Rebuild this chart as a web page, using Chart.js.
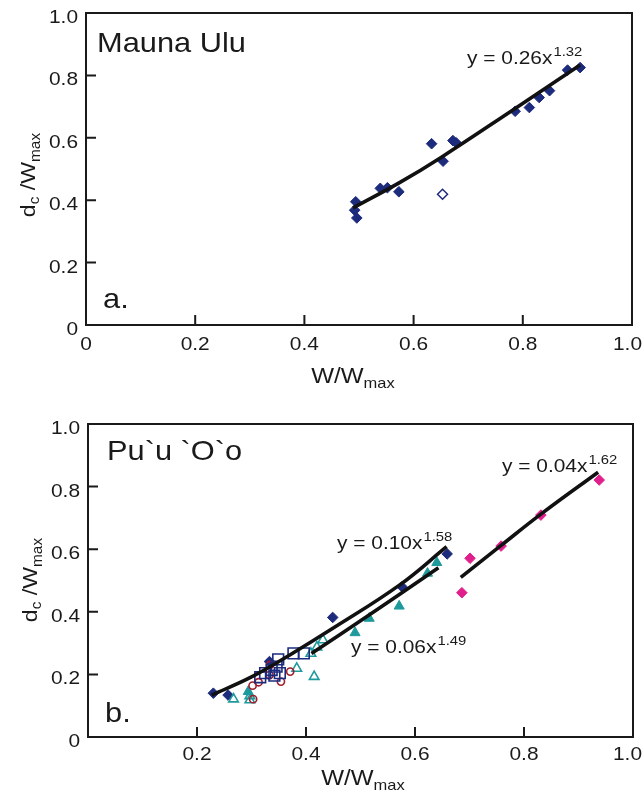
<!DOCTYPE html>
<html lang="en">
<head>
<meta charset="UTF-8" />
<title>Channel depth vs width</title>
<script src="https://cdn.jsdelivr.net/npm/chart.js"></script>
<style>
  body { margin: 0; background: #fff; }
  canvas { position: absolute; left: 0; }
  #chartA { top: 0; }
  #chartB { top: 395px; }
</style>
</head>
<body>
<canvas id="chartA" width="644" height="395"></canvas>
<canvas id="chartB" width="644" height="396"></canvas>
<script>
// panel a: Mauna Ulu
const muX = [0.492, 0.494, 0.496, 0.539, 0.552, 0.573, 0.633, 0.654, 0.672, 0.678, 0.786, 0.812, 0.830, 0.849, 0.882, 0.905];
const muY = [0.368, 0.395, 0.343, 0.438, 0.440, 0.427, 0.581, 0.525, 0.591, 0.584, 0.685, 0.697, 0.729, 0.751, 0.817, 0.825];
const muOpenX = [0.653];
const muOpenY = [0.419];
const muFitX = [0.489, 0.575, 0.651, 0.786, 0.905];
const muFitY = [0.375, 0.457, 0.538, 0.694, 0.833];

// panel b: Pu`u `O`o
const diaX = [0.230, 0.257, 0.333, 0.449, 0.576, 0.659];
const diaY = [0.140, 0.134, 0.241, 0.382, 0.480, 0.585];
const sqX = [0.316, 0.325, 0.337, 0.346, 0.349, 0.352, 0.377, 0.396, 0.342];
const sqY = [0.191, 0.204, 0.214, 0.225, 0.248, 0.204, 0.267, 0.267, 0.196];
const circX = [0.302, 0.303, 0.313, 0.333, 0.334, 0.354, 0.371];
const circY = [0.164, 0.121, 0.175, 0.198, 0.230, 0.177, 0.209];
const triOpenX = [0.267, 0.297, 0.297, 0.383, 0.415, 0.409, 0.420, 0.431];
const triOpenY = [0.121, 0.131, 0.118, 0.219, 0.193, 0.267, 0.287, 0.310];
const triX = [0.294, 0.490, 0.516, 0.571, 0.623, 0.640];
const triY = [0.145, 0.333, 0.379, 0.418, 0.523, 0.557];
const pinkX = [0.686, 0.701, 0.758, 0.831, 0.938];
const pinkY = [0.461, 0.571, 0.610, 0.709, 0.821];
const fit1X = [0.227, 0.300, 0.371, 0.450, 0.572, 0.658];
const fit1Y = [0.134, 0.192, 0.263, 0.348, 0.486, 0.608];
const fit2X = [0.410, 0.511, 0.572, 0.643];
const fit2Y = [0.267, 0.384, 0.456, 0.541];
const fit3X = [0.684, 0.758, 0.831, 0.936];
const fit3Y = [0.510, 0.612, 0.712, 0.846];

const tickVals = [0, 0.2, 0.4, 0.6, 0.8, 1.0];
const tickLabels = ['0', '0.2', '0.4', '0.6', '0.8', '1.0'];
const innerTicks = [0.2, 0.4, 0.6, 0.8];

const NAVY = '#1d2b7d', TEAL = '#1f9a9c', RED = '#a11d2b', PINK = '#e01e8c', INK = '#1a1a1a';
const FONT = '"Liberation Sans", Arial, sans-serif';
const SX = 1.1; // the figure's type is a little wider than Arial

const pts = (xs, ys) => xs.map((x, i) => ({ x, y: ys[i] }));

// runs: [text, size, dy]
function runs(ctx, parts, x, y, align) {
  let total = 0;
  parts.forEach(p => { ctx.font = p[1] + 'px ' + FONT; total += ctx.measureText(p[0]).width * SX; });
  let cx = align === 'center' ? x - total / 2 : align === 'right' ? x - total : x;
  parts.forEach(p => {
    ctx.font = p[1] + 'px ' + FONT;
    const w = ctx.measureText(p[0]).width * SX;
    ctx.save();
    ctx.translate(cx, y + (p[2] || 0));
    ctx.scale(SX, 1);
    ctx.textAlign = 'left';
    ctx.textBaseline = 'alphabetic';
    ctx.fillText(p[0], 0, 0);
    ctx.restore();
    cx += w;
  });
  return total;
}

const deco = {
  id: 'deco',
  afterDraw(chart, args, o) {
    const { ctx, chartArea: a, scales: { x, y } } = chart;
    ctx.save();
    ctx.fillStyle = INK;
    ctx.strokeStyle = INK;
    ctx.lineWidth = 2;
    ctx.strokeRect(a.left, a.top, a.right - a.left, a.bottom - a.top);
    ctx.beginPath();
    innerTicks.forEach(v => {
      const px = x.getPixelForValue(v);
      ctx.moveTo(px, a.bottom);
      ctx.lineTo(px, a.bottom - 10);
      const py = y.getPixelForValue(v);
      ctx.moveTo(a.left, py);
      ctx.lineTo(a.left + 10, py);
    });
    ctx.stroke();

    tickVals.forEach((v, i) => {
      runs(ctx, [[tickLabels[i], 19]], a.left - 8, y.getPixelForValue(v) + 10, 'right');
      if (v === 0 && !o.xZero) return;
      const px = x.getPixelForValue(v);
      ctx.font = '19px ' + FONT;
      const w = ctx.measureText(tickLabels[i]).width * SX;
      const left = Math.min(px - w / 2, 642 - w);
      runs(ctx, [[tickLabels[i], 19]], left, a.bottom + o.xLab, 'left');
    });

    // axis titles
    runs(ctx, [['W/W', 22], ['max', 15, 5]], o.xTitle[0], o.xTitle[1], 'center');
    ctx.save();
    ctx.translate(o.yTitle[0], o.yTitle[1]);
    ctx.rotate(-Math.PI / 2);
    runs(ctx, [['d', 21], ['c', 14, 4], [' /W', 21], ['max', 14, 5]], 0, 0, 'center');
    ctx.restore();

    runs(ctx, [[o.name, 28]], o.nameAt[0], o.nameAt[1], 'left');
    runs(ctx, [[o.letter, 28]], o.letterAt[0], o.letterAt[1], 'left');

    o.eqs.forEach(e => {
      const w = runs(ctx, [[e.main, 19]], e.at[0], e.at[1], 'left');
      runs(ctx, [[e.sup, 13.5]], e.at[0] + w + 1, e.at[1] - 8, 'left');
    });
    ctx.restore();
  }
};

function dots(data, style, radius, fill, stroke, bw) {
  return {
    type: 'scatter', data, order: 2,
    pointStyle: style, pointRadius: radius,
    backgroundColor: fill, borderColor: stroke, borderWidth: bw
  };
}

function fit(data) {
  return {
    type: 'line', data, order: 0, showLine: true,
    borderColor: '#111', borderWidth: 3.6, pointRadius: 0,
    tension: 0.4, fill: false
  };
}

function opts(box, deco) {
  return {
    responsive: false,
    animation: false,
    layout: { autoPadding: false, padding: { left: 0, right: box.right, top: box.top, bottom: 0 } },
    scales: {
      x: {
        type: 'linear', min: 0, max: 1,
        ticks: { display: false }, grid: { display: false }, border: { display: false },
        afterFit: s => { s.height = box.xh; }
      },
      y: {
        type: 'linear', min: 0, max: 1,
        ticks: { display: false }, grid: { display: false }, border: { display: false },
        afterFit: s => { s.width = box.yw; }
      }
    },
    plugins: { legend: { display: false }, tooltip: { enabled: false }, deco }
  };
}

new Chart(document.getElementById('chartA'), {
  type: 'scatter',
  data: {
    datasets: [
      fit(pts(muFitX, muFitY)),
      dots(pts(muX, muY), 'rectRot', 5.3, NAVY, NAVY, 1),
      dots(pts(muOpenX, muOpenY), 'rectRot', 5, '#fff', NAVY, 1.5)
    ]
  },
  options: opts({ right: 12, top: 13, xh: 70, yw: 86 }, {
    xZero: true, xLab: 25,
    xTitle: [353, 383], yTitle: [35, 175],
    name: 'Mauna Ulu', nameAt: [97, 52],
    letter: 'a.', letterAt: [103, 308],
    eqs: [{ main: 'y = 0.26x', sup: '1.32', at: [467, 64] }]
  }),
  plugins: [deco]
});

new Chart(document.getElementById('chartB'), {
  type: 'scatter',
  data: {
    datasets: [
      fit(pts(fit1X, fit1Y)),
      fit(pts(fit2X, fit2Y)),
      fit(pts(fit3X, fit3Y)),
      dots(pts(sqX, sqY), 'rect', 7.6, 'rgba(0,0,0,0)', NAVY, 1.6),
      dots(pts(circX, circY), 'circle', 3.6, 'rgba(0,0,0,0)', RED, 1.6),
      dots(pts(triOpenX, triOpenY), 'triangle', 5.5, 'rgba(0,0,0,0)', TEAL, 1.6),
      dots(pts(triX, triY), 'triangle', 5.8, TEAL, TEAL, 1),
      dots(pts(diaX, diaY), 'rectRot', 5.3, NAVY, NAVY, 1),
      dots(pts(pinkX, pinkY), 'rectRot', 5.3, PINK, PINK, 1)
    ]
  },
  options: opts({ right: 11, top: 29, xh: 54, yw: 88 }, {
    xZero: false, xLab: 23,
    xTitle: [363, 390], yTitle: [37, 185],
    name: 'Pu`u `O`o', nameAt: [107, 65],
    letter: 'b.', letterAt: [105, 327],
    eqs: [
      { main: 'y = 0.04x', sup: '1.62', at: [502, 77] },
      { main: 'y = 0.10x', sup: '1.58', at: [337, 154] },
      { main: 'y = 0.06x', sup: '1.49', at: [351, 258] }
    ]
  }),
  plugins: [deco]
});
</script>
</body>
</html>
